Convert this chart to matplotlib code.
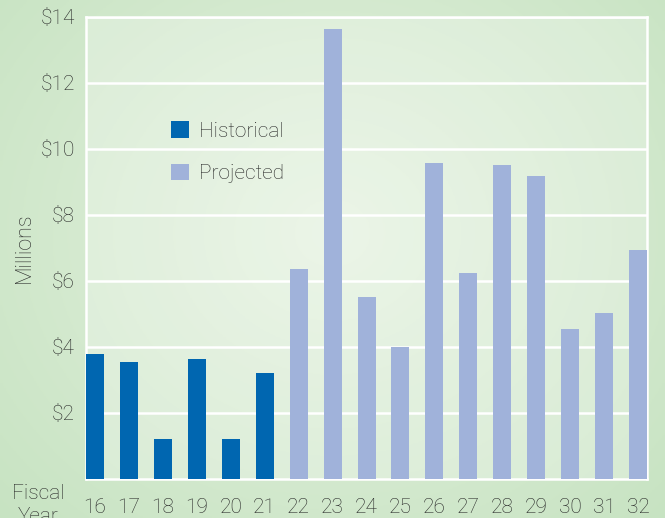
import matplotlib
matplotlib.use("Agg")
import matplotlib.pyplot as plt
import numpy as np
from matplotlib.patches import Patch

years = ["16", "17", "18", "19", "20", "21", "22", "23", "24", "25",
         "26", "27", "28", "29", "30", "31", "32"]
values = [3.79, 3.55, 1.21, 3.64, 1.21, 3.21, 6.36, 13.64, 5.52, 4.00,
          9.58, 6.24, 9.52, 9.18, 4.55, 5.03, 6.94]
kinds = ["Historical"] * 6 + ["Projected"] * 11
yticks = [2, 4, 6, 8, 10, 12, 14]
ytick_labels = ["$2", "$4", "$6", "$8", "$10", "$12", "$14"]

colors = {"Historical": "#0066b0", "Projected": "#a0b2da"}
text_color = "#262626"
plt.rcParams["font.family"] = ["Roboto", "DejaVu Sans"]

fig = plt.figure(figsize=(6.65, 5.18), dpi=100)

# background gradient
bg = fig.add_axes([0, 0, 1, 1], zorder=-10)
yy, xx = np.mgrid[0:1:200j, 0:1:200j]
r = np.sqrt(((xx - 0.5) / 0.7) ** 2 + ((yy - 0.55) / 0.8) ** 2)
c_in = np.array([0.90, 0.95, 0.88])
c_out = np.array([0.78, 0.89, 0.76])
t = np.clip(r, 0, 1)[..., None]
img = c_in * (1 - t) + c_out * t
bg.imshow(img, extent=[0, 1, 0, 1], aspect="auto", origin="lower")
bg.axis("off")

ax = fig.add_axes([0.1293, 0.0753, 0.8437, 0.8919])
ax.set_facecolor((1, 1, 1, 0.25))

x = np.arange(len(years))
bar_colors = [colors[k] for k in kinds]
ax.bar(x, values, width=0.53, color=bar_colors, zorder=3)

ax.set_xlim(-0.265, len(years) - 1 + 0.265)
ax.set_ylim(0, 14)
ax.set_yticks(yticks)
ax.set_yticklabels(ytick_labels)
ax.set_xticks(x)
ax.set_xticklabels(years)
ax.tick_params(axis="both", length=0, labelsize=15, colors=text_color)
ax.tick_params(axis="y", pad=8)
ax.tick_params(axis="x", pad=14)
for lab in ax.get_xticklabels() + ax.get_yticklabels():
    lab.set_fontweight("light")

ax.grid(axis="y", color="white", linewidth=1.8, zorder=1)
ax.set_axisbelow(True)
for s in ax.spines.values():
    s.set_color("white")
    s.set_linewidth(1.8)

fig.text(24 / 665, 1 - 248 / 518, "Millions", rotation=90, ha="center", va="center",
         fontsize=15.5, color=text_color, fontweight="light")
fig.text(38 / 665, 1 - 484 / 518, "Fiscal\nYear", ha="center", va="top",
         fontsize=15, color=text_color, fontweight="light", linespacing=1.25)

# cut-off heading (only the descender is visible in the reference)
fig.text(502 / 665, 1 + 6 / 518, "Summary", ha="right", va="baseline",
         fontsize=20, color="#0066b0", fontweight="bold")

handles = [Patch(facecolor=colors["Historical"], label="Historical"),
           Patch(facecolor=colors["Projected"], label="Projected")]
leg = ax.legend(handles=handles, loc="upper left", bbox_to_anchor=(0.1515, 0.774),
                frameon=False, fontsize=15, handlelength=0.85, handleheight=0.85,
                handletextpad=0.5, labelspacing=1.1, borderpad=0, borderaxespad=0)
for t_ in leg.get_texts():
    t_.set_color(text_color)
    t_.set_fontweight("light")

fig.savefig("out.png", dpi=100)
